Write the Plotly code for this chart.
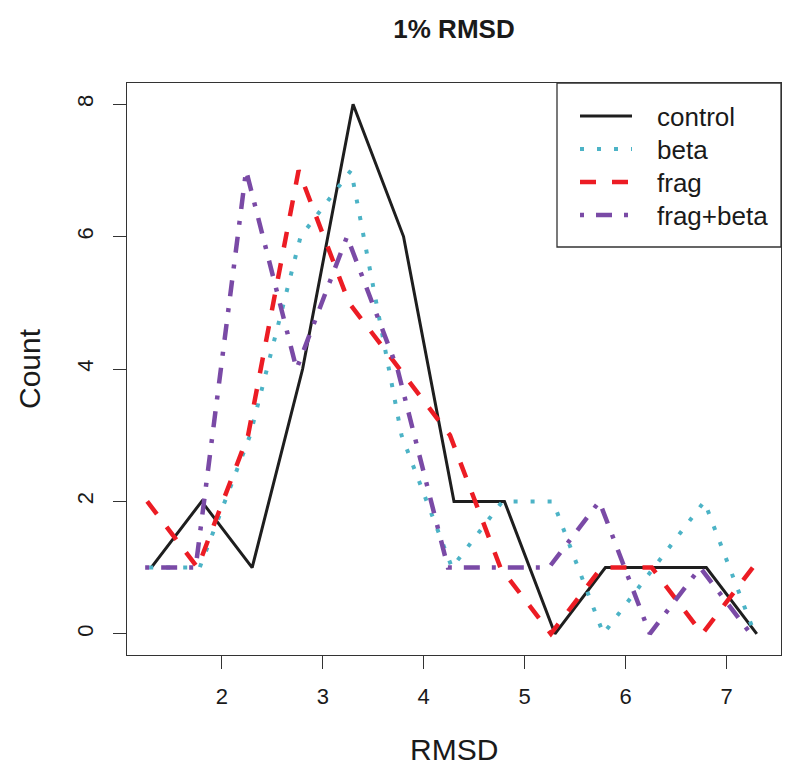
import plotly.graph_objects as go

# RMSD bin positions (small offset per series, as in the original plot)
rmsd_control = [1.3, 1.8, 2.3, 2.8, 3.3, 3.8, 4.3, 4.8, 5.3, 5.8, 6.3, 6.8, 7.3]
rmsd_beta = [1.28, 1.78, 2.28, 2.78, 3.28, 3.78, 4.28, 4.78, 5.28, 5.78, 6.28, 6.78, 7.28]
rmsd_frag = [1.26, 1.76, 2.26, 2.76, 3.26, 3.76, 4.26, 4.76, 5.26, 5.76, 6.26, 6.76, 7.26]
rmsd_fragbeta = [1.24, 1.74, 2.24, 2.74, 3.24, 3.74, 4.24, 4.74, 5.24, 5.74, 6.24, 6.74, 7.24]

# counts
count_control = [1, 2, 1, 4, 8, 6, 2, 2, 0, 1, 1, 1, 0]
count_beta = [1, 1, 3, 6, 7, 3, 1, 2, 2, 0, 1, 2, 0]
count_frag = [2, 1, 3, 7, 5, 4, 3, 1, 0, 1, 1, 0, 1]
count_fragbeta = [1, 1, 7, 4, 6, 4, 1, 1, 1, 2, 0, 1, 0]

names = ['control', 'beta', 'frag', 'frag+beta']
colors = ['#1e1e1e', '#4cb3c6', '#ec1c24', '#7a4aa6']
widths = [3, 4, 4.5, 4.5]
dashes = ['solid', '4px,13px', '16px,16px', '4px,12px,16px,12px']

xs = [rmsd_control, rmsd_beta, rmsd_frag, rmsd_fragbeta]
ys = [count_control, count_beta, count_frag, count_fragbeta]

font = 'Liberation Sans, Arial, Helvetica, sans-serif'

fig = go.Figure()
for x, y, name, col, w, d in zip(xs, ys, names, colors, widths, dashes):
    fig.add_trace(go.Scatter(x=x, y=y, mode='lines', name=name, showlegend=False,
                             line=dict(color=col, width=w, dash=d)))

# the page has an 8px body margin, so the margins are shifted by 8px
# plot box ends up at 127..781 px wide, 83..655 px tall on the page
fig.update_layout(
    width=800, height=778,
    margin=dict(l=119, r=27, t=75, b=131, pad=0),
    plot_bgcolor='white', paper_bgcolor='white',
    font=dict(family=font, color='#1a1a1a'),
    title=dict(text='<b>1% RMSD</b>', x=446 / 800, xanchor='center', y=1 - 21 / 778, yanchor='middle',
               yref='container', font=dict(size=26, color='#1a1a1a')),
)
fig.update_xaxes(range=[1.06, 7.54], tickvals=[2, 3, 4, 5, 6, 7], showgrid=False, zeroline=False,
                 showline=True, mirror=True, linecolor='#333333', linewidth=1.3,
                 ticks='outside', ticklen=13, tickwidth=1.3, tickcolor='#333333',
                 tickfont=dict(size=22), ticklabelstandoff=8)
fig.update_yaxes(range=[-0.32, 8.32], tickvals=[0, 2, 4, 6, 8], showgrid=False, zeroline=False,
                 showline=True, mirror=True, linecolor='#333333', linewidth=1.3,
                 ticks='outside', ticklen=13, tickwidth=1.3, tickcolor='#333333',
                 tickfont=dict(size=22), tickangle=-90, ticklabelstandoff=11)

# axis titles
fig.add_annotation(text='RMSD', xref='paper', yref='paper', x=0.5, y=(655 - 749) / 572,
                   xanchor='center', yanchor='middle', showarrow=False, font=dict(size=30))
fig.add_annotation(text='Count', xref='paper', yref='paper', x=(29 - 127) / 654, y=0.5,
                   xanchor='center', yanchor='middle', textangle=-90, showarrow=False, font=dict(size=30))


# legend box, drawn by hand to match the R legend (page px -> paper)
def px_x(p):
    return (p - 127) / 654


def px_y(p):
    return (655 - p) / 572


fig.add_shape(type='rect', xref='paper', yref='paper', x0=px_x(557), x1=1, y0=px_y(247), y1=1,
              line=dict(color='#333333', width=1.3), fillcolor='white', layer='above')
rows = [116, 149, 182, 215]
for row, name, col, w, d in zip(rows, names, colors, widths, dashes):
    fig.add_shape(type='line', xref='paper', yref='paper', x0=px_x(580), x1=px_x(632),
                  y0=px_y(row), y1=px_y(row), line=dict(color=col, width=w, dash=d), layer='above')
    fig.add_annotation(text=name, xref='paper', yref='paper', x=px_x(655), y=px_y(row + 1),
                       xanchor='left', yanchor='middle', showarrow=False, font=dict(size=26))

fig.write_html("out.html")
